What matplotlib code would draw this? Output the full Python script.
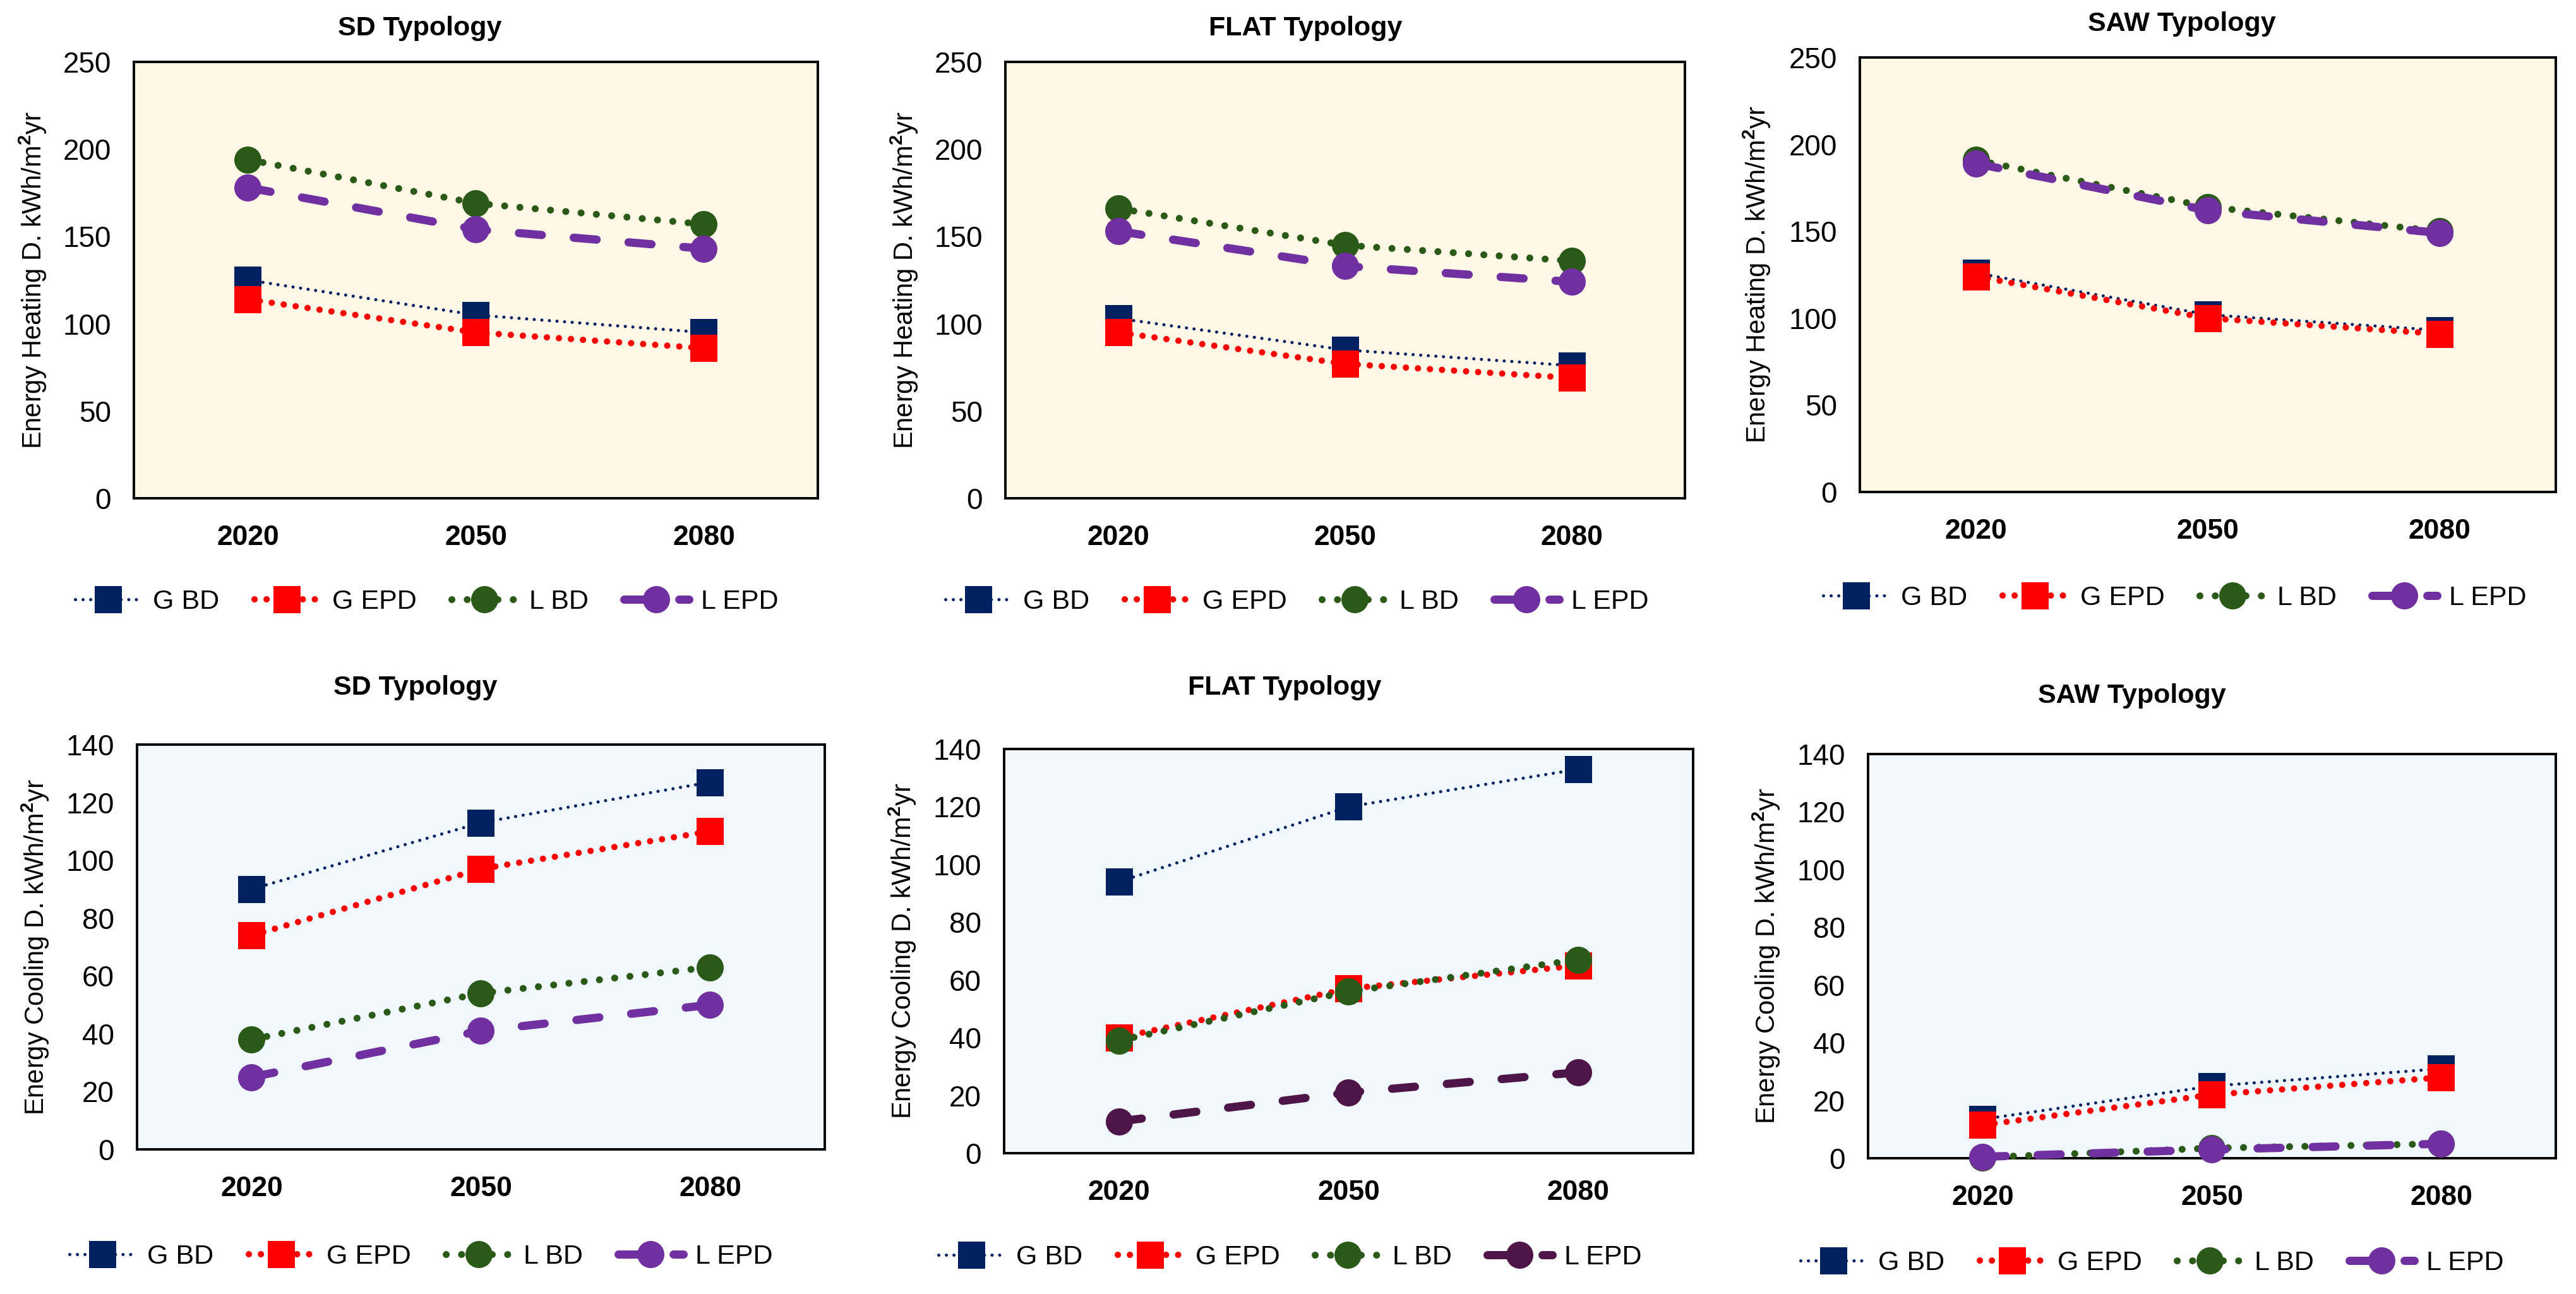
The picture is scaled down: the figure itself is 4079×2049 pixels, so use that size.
import matplotlib
matplotlib.use("Agg")
import matplotlib.pyplot as plt

plt.rcParams['font.family'] = ['Liberation Sans Narrow', 'Liberation Sans', 'DejaVu Sans']
plt.rcParams['mathtext.fontset'] = 'custom'
plt.rcParams['mathtext.rm'] = 'Liberation Sans'
plt.rcParams['mathtext.bf'] = 'Liberation Sans:bold'

years = ["2020", "2050", "2080"]
series_names = ["G BD", "G EPD", "L BD", "L EPD"]

# heating demand (kWh/m2yr)
heat_sd = [[125, 105, 95], [114, 95, 86], [194, 169, 157], [178, 154, 143]]
heat_flat = [[103, 85, 76], [95, 77, 69], [166, 145, 136], [153, 133, 124]]
heat_saw = [[126, 102, 93], [124, 100, 91], [191, 164, 150], [189, 162, 149]]

# cooling demand (kWh/m2yr)
cool_sd = [[90, 113, 127], [74, 97, 110], [38, 54, 63], [25, 41, 50]]
cool_flat = [[94, 120, 133], [40, 57, 65], [39, 56, 67], [11, 21, 28]]
cool_saw = [[13.5, 25, 31], [11.5, 22, 28], [0.3, 3.5, 5], [0.5, 3, 5]]

W, H = 4080, 2049

def px(v):
    return v * 72 / 100.0

# style per series: color, marker, lw(px), dash pattern
styles = [
    dict(color="#002060", marker="s", lw=px(5), dashes=(0.01, 2.4)),
    dict(color="#FF0000", marker="s", lw=px(10), dashes=(0.01, 1.9)),
    dict(color="#2B5A18", marker="o", lw=px(11), dashes=(0.01, 2.2)),
    dict(color="#7030A0", marker="o", lw=px(13), dashes=(2.8, 3.9)),
]

panels = [
    # data, rect px (left, top, right, bottom), title, title pos, legend pos, kind
    (heat_sd, (212, 98, 1295, 789), "SD Typology", (665, 45), (676, 953), "heat"),
    (heat_flat, (1592, 98, 2668, 789), "FLAT Typology", (2067, 45), (2054, 953), "heat"),
    (heat_saw, (2945, 91, 4047, 779), "SAW Typology", (3455, 38), (3444, 947), "heat"),
    (cool_sd, (217, 1179, 1306, 1820), "SD Typology", (658, 1089), (667, 1990), "cool"),
    (cool_flat, (1590, 1186, 2681, 1826), "FLAT Typology", (2034, 1089), (2043, 1991), "cool"),
    (cool_saw, (2958, 1194, 4047, 1834), "SAW Typology", (3376, 1102), (3408, 2000), "cool"),
]

fig = plt.figure(figsize=(W / 100, H / 100), dpi=100)

for idx, (data, (l, t, r, b), title, tpos, lpos, kind) in enumerate(panels):
    ax = fig.add_axes([l / W, 1 - b / H, (r - l) / W, (b - t) / H])
    if kind == "heat":
        ax.set_facecolor("#FFF8E6")
        ax.set_ylim(0, 250)
        ax.set_yticks(range(0, 251, 50))
        ylab = r"Energy Heating D. kWh/m$^{\mathbf{2}}$yr"
    else:
        ax.set_facecolor("#F0F8FD")
        ax.set_ylim(0, 140)
        ax.set_yticks(range(0, 141, 20))
        ylab = r"Energy Cooling D. kWh/m$^{\mathbf{2}}$yr"
    handles = []
    for k, vals in enumerate(data):
        st = dict(styles[k])
        if idx == 4 and k == 3:
            st["color"] = "#4E1548"
        ln, = ax.plot(range(len(years)), vals, color=st["color"], lw=st["lw"],
                      linestyle=(0, st["dashes"]), dash_capstyle="round",
                      marker=st["marker"], markersize=px(43), markeredgewidth=0,
                      clip_on=False, zorder=3 + k)
        handles.append(ln)
    ax.set_xlim(-0.5, 2.5)
    ax.set_xticks(range(len(years)))
    ax.set_xticklabels(years, fontweight="bold")
    ax.tick_params(length=0)
    ax.tick_params(axis="y", pad=26, labelsize=33)
    ax.tick_params(axis="x", pad=30, labelsize=32)
    for s in ax.spines.values():
        s.set_linewidth(2.8)
        s.set_color("black")
    ax.set_ylabel(ylab, family="Liberation Sans", fontsize=30)
    ax.yaxis.set_label_coords(-0.125, 0.5)
    fig.text(tpos[0] / W, 1 - tpos[1] / H, title, ha="center", va="center",
             fontsize=31, fontweight="bold")
    fig.legend(handles, series_names, loc="center",
               bbox_to_anchor=(lpos[0] / W, 1 - lpos[1] / H), ncol=4,
               frameon=False, fontsize=31, handlelength=2.4,
               handletextpad=0.45, columnspacing=1.3)

fig.savefig("out.png", dpi=100)
